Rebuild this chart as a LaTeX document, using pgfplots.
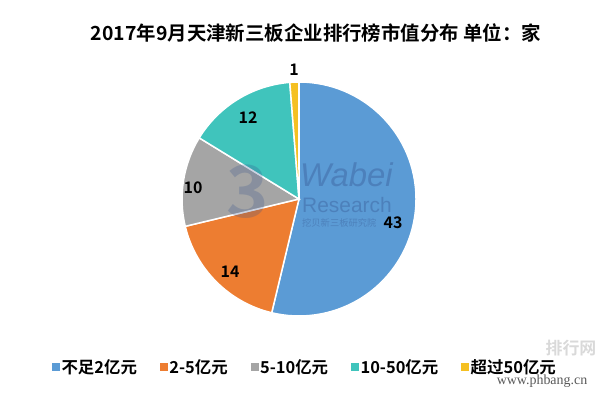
\documentclass[border=0pt]{standalone}
\usepackage{pgfplots}
\pgfplotsset{compat=1.18}
\usepackage{pgfplotstable}
\usepackage{fontspec}
\setmainfont{Noto Sans CJK SC}[BoldFont={Noto Sans CJK SC Bold}]
\newfontfamily\wmfont{Liberation Sans}
\newfontfamily\seriffont{Liberation Serif}
\definecolor{c1}{HTML}{5B9BD5}
\definecolor{c2}{HTML}{ED7D31}
\definecolor{c3}{HTML}{A5A5A5}
\definecolor{c4}{HTML}{40C4BC}
\definecolor{c5}{HTML}{F5C022}
\definecolor{wm}{RGB}{50,80,140}
\pgfplotstableread{
v
43
14
10
12
1
}\piedata
\begin{document}
\begin{tikzpicture}
\pgfplotstablegetelem{0}{v}\of\piedata\pgfmathsetmacro\vA{\pgfplotsretval}
\pgfplotstablegetelem{1}{v}\of\piedata\pgfmathsetmacro\vB{\pgfplotsretval}
\pgfplotstablegetelem{2}{v}\of\piedata\pgfmathsetmacro\vC{\pgfplotsretval}
\pgfplotstablegetelem{3}{v}\of\piedata\pgfmathsetmacro\vD{\pgfplotsretval}
\pgfplotstablegetelem{4}{v}\of\piedata\pgfmathsetmacro\vE{\pgfplotsretval}
\pgfmathsetmacro\tot{\vA+\vB+\vC+\vD+\vE}
\pgfmathsetmacro\aA{90}
\pgfmathsetmacro\aB{\aA-\vA/\tot*360}
\pgfmathsetmacro\aC{\aB-\vB/\tot*360}
\pgfmathsetmacro\aD{\aC-\vC/\tot*360}
\pgfmathsetmacro\aE{\aD-\vD/\tot*360}
\pgfmathsetmacro\aF{\aE-\vE/\tot*360}
\begin{axis}[
  width=600bp, height=392bp, scale only axis,
  xmin=0, xmax=600, ymin=0, ymax=392, y dir=reverse,
  hide axis, clip=false,
  legend columns=5,
  legend style={at={(axis cs:305,367)}, anchor=center, draw=none, fill=none,
    font=\bfseries\fontsize{16.5}{18}\selectfont,
    /tikz/every even column/.append style={column sep=21bp},
    nodes={inner xsep=2bp}},
]
\path (axis cs:0,0) rectangle (axis cs:600,392);
\addlegendimage{c1, legend image code/.code={\fill (0bp,-3.5bp) rectangle (7bp,3.5bp);}}
\addlegendentry{不足2亿元}
\addlegendimage{c2, legend image code/.code={\fill (0bp,-3.5bp) rectangle (7bp,3.5bp);}}
\addlegendentry{2-5亿元}
\addlegendimage{c3, legend image code/.code={\fill (0bp,-3.5bp) rectangle (7bp,3.5bp);}}
\addlegendentry{5-10亿元}
\addlegendimage{c4, legend image code/.code={\fill (0bp,-3.5bp) rectangle (7bp,3.5bp);}}
\addlegendentry{10-50亿元}
\addlegendimage{c5, legend image code/.code={\fill (0bp,-3.5bp) rectangle (7bp,3.5bp);}}
\addlegendentry{超过50亿元}
% pie slices
\filldraw[fill=c1, draw=white, line width=1.5bp] (axis cs:299,199) -- ++(\aA:117bp) arc[start angle=\aA, end angle=\aB, radius=117bp] -- cycle;
\filldraw[fill=c2, draw=white, line width=1.5bp] (axis cs:299,199) -- ++(\aB:117bp) arc[start angle=\aB, end angle=\aC, radius=117bp] -- cycle;
\filldraw[fill=c3, draw=white, line width=1.5bp] (axis cs:299,199) -- ++(\aC:117bp) arc[start angle=\aC, end angle=\aD, radius=117bp] -- cycle;
\filldraw[fill=c4, draw=white, line width=1.5bp] (axis cs:299,199) -- ++(\aD:117bp) arc[start angle=\aD, end angle=\aE, radius=117bp] -- cycle;
\filldraw[fill=c5, draw=white, line width=1.5bp] (axis cs:299,199) -- ++(\aE:117bp) arc[start angle=\aE, end angle=\aF, radius=117bp] -- cycle;
% watermark
\node[font=\wmfont\itshape\fontsize{33}{33}\selectfont, text=wm, opacity=0.35, anchor=west, inner sep=0pt] at (axis cs:300,175) {Wabei};
\node[font=\wmfont\fontsize{21}{21}\selectfont, text=wm, opacity=0.35, anchor=west, inner sep=0pt] at (axis cs:302,205) {Research};
\node[font=\fontsize{9.3}{10}\selectfont, text=wm, opacity=0.35, anchor=west, inner sep=0pt] at (axis cs:302,223) {挖贝新三板研究院};
\node[font=\bfseries\fontsize{72}{72}\selectfont, text=wm, opacity=0.25, inner sep=0pt] at (axis cs:248,192) {3};
% data labels
\node[font=\bfseries\fontsize{16}{18}\selectfont] at (axis cs:393,223) {43};
\node[font=\bfseries\fontsize{16}{18}\selectfont] at (axis cs:230,272) {14};
\node[font=\bfseries\fontsize{16}{18}\selectfont] at (axis cs:193,188) {10};
\node[font=\bfseries\fontsize{16}{18}\selectfont] at (axis cs:248,118) {12};
\node[font=\bfseries\fontsize{16}{18}\selectfont] at (axis cs:294,70) {1};
% title
\node[font=\bfseries\fontsize{19.5}{22}\selectfont] at (axis cs:316,33) {2017年9月天津新三板企业排行榜市值分布 单位：家};
% site mark
\node[font=\bfseries\fontsize{17}{17}\selectfont, text=gray, opacity=0.3, inner sep=0pt] at (axis cs:571,348) {排行网};
\node[font=\seriffont\fontsize{14}{14}\selectfont, text=black!65, inner sep=0pt] at (axis cs:542,381) {www.phbang.cn};
\end{axis}
\end{tikzpicture}
\end{document}
